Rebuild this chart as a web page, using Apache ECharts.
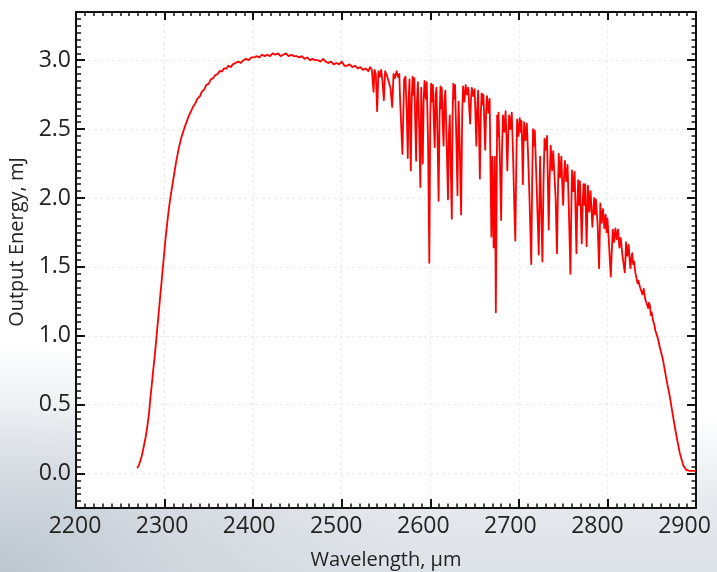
<!DOCTYPE html>
<html>
<head>
<meta charset="utf-8">
<script src="https://cdn.jsdelivr.net/npm/echarts@6/dist/echarts.min.js"></script>
<style>
  html, body { margin: 0; padding: 0; }
  body {
    width: 717px; height: 572px; overflow: hidden;
    background:
      radial-gradient(ellipse 420px 230px at 0% 100%, rgba(190,199,208,1) 0%, rgba(205,212,219,0.7) 45%, rgba(255,255,255,0) 100%),
      linear-gradient(180deg, #ffffff 0%, #ffffff 72%, #e6e9ed 88%, #dde2e7 100%);
  }
  #chart { width: 717px; height: 572px; }
</style>
</head>
<body>
<div id="chart"></div>
<script>
// ---- data ----
const xTickLabels = [2200, 2300, 2400, 2500, 2600, 2700, 2800, 2900];
const yTickLabels = [0.0, 0.5, 1.0, 1.5, 2.0, 2.5, 3.0];

// [wavelength (µm), output energy (mJ)]
const riseSegment = [
  [2269,0.04],[2271,0.06],[2274,0.12],[2276,0.18],[2278.5,0.26],[2280.5,0.34],[2282.5,0.44],
  [2284,0.55],[2285.5,0.64],[2287,0.74],[2289,0.86],[2291,1.0],[2293,1.14],[2295,1.28],
  [2297,1.42],[2299,1.56],[2301,1.7],[2303,1.82],[2305,1.93],[2307,2.02],[2309,2.1],
  [2311,2.18],[2313,2.26],[2316,2.36],[2319,2.44],[2323,2.52],[2327,2.59],[2332,2.66],
  [2335,2.69],[2337,2.72],[2340,2.74],[2342,2.77],[2345,2.79],[2347,2.82],[2350,2.83],
  [2352,2.86],[2355,2.87],[2357,2.89],[2360,2.90],[2362,2.92],[2365,2.92],[2367,2.94],
  [2370,2.94],[2372,2.96],[2375,2.95],[2377,2.97]
];

const plateauSegment = [
  [2380,2.98],[2383,2.99],[2386,2.98],[2389,3.00],[2392,3.01],[2395,3.0],[2398,3.02],
  [2401,3.02],[2404,3.03],[2407,3.02],[2410,3.04],[2413,3.03],[2416,3.04],[2419,3.03],
  [2422,3.05],[2425,3.04],[2428,3.05],[2431,3.03],[2434,3.04],[2437,3.05],[2440,3.03],
  [2443,3.04],[2446,3.03],[2449,3.03],[2452,3.02],[2455,3.03],[2458,3.01],[2461,3.02],
  [2464,3.0],[2467,3.01],[2470,3.0],[2473,3.0],[2476,2.99],[2479,3.01],[2482,2.99],
  [2485,2.98],[2488,2.99],[2491,2.97],[2494,2.98],[2497,2.97],[2500,2.99],[2503,2.96],
  [2506,2.96],[2509,2.97],[2512,2.95],[2515,2.96],[2518,2.94],[2521,2.95],[2524,2.93],
  [2527,2.94],[2530,2.92]
];

const absorptionSegment = [
  [2532,2.95],[2534,2.93],[2536,2.77],[2537,2.93],[2538.5,2.90],[2540,2.63],[2541.5,2.92],
  [2543,2.88],[2544.5,2.93],[2546,2.85],[2547.6,2.71],[2549,2.92],[2551,2.89],[2553,2.90],
  [2555,2.80],[2557,2.66],[2558.5,2.90],[2560,2.87],[2562,2.92],[2563.5,2.88],[2565,2.90],
  [2566,2.70],[2567,2.55],[2568.5,2.32],[2569.5,2.60],[2570.5,2.86],[2572,2.88],[2573.5,2.60],
  [2574.6,2.29],[2575.5,2.70],[2576.5,2.86],[2577.3,2.50],[2578,2.20],[2579,2.70],[2580,2.88],
  [2581,2.75],[2582,2.87],[2583,2.55],[2584,2.27],[2585,2.70],[2586,2.84],[2587.5,2.50],
  [2588.8,2.08],[2589.8,2.80],[2590.7,2.50],[2591.5,2.25],[2592.5,2.70],[2593.5,2.85],
  [2595,2.72],[2596,2.84],[2597.5,2.40],[2598.9,1.53],[2600,2.60],[2601,2.83],[2602,2.70],
  [2603,2.82],[2604,2.55],[2605,2.37],[2606,2.75],[2607,2.80],[2608.3,2.40],[2609.4,1.98],
  [2610.5,2.60],[2611.5,2.81],[2612.3,2.65],[2613,2.80],[2614,2.55],[2615,2.38],[2616,2.70],
  [2617,2.78],[2618.5,2.40],[2620,1.99],[2621,2.45],[2622,2.60],[2623.2,2.20],[2624.3,1.85],
  [2625.2,2.60],[2626,2.83],[2627,2.72],[2628,2.82],[2629.5,2.40],[2630.7,2.02],[2631.5,2.50],
  [2632,2.70],[2633.5,2.30],[2634.8,1.88],[2636,2.60],[2637,2.81],[2638.5,2.70],[2640,2.82],
  [2641.5,2.75],[2643,2.80],[2644,2.65],[2645,2.54],[2646,2.72],[2647,2.80],[2648.5,2.74],
  [2650,2.79],[2651,2.60],[2652,2.38],[2653,2.65],[2654,2.78],[2655,2.50],[2656,2.14],
  [2657,2.60],[2658,2.76],[2659,2.68],[2660,2.75],[2661,2.55],[2662,2.35],[2663,2.62],
  [2664,2.74],[2665.5,2.62],[2667,2.72],[2668,2.20],[2669,1.72],[2669.6,2.10],[2670,2.30],
  [2670.8,2.00],[2671.5,1.64],[2672.2,2.00],[2672.8,2.30],[2673.4,1.80],[2674,1.17],
  [2674.8,1.90],[2675.5,2.60],[2676.3,2.45],[2677,2.62],[2678.5,2.30],[2680,1.84],[2681,2.35],
  [2682,2.60],[2683.5,2.48],[2685,2.63],[2686,2.45],[2687,2.20],[2688,2.45],[2689,2.60],
  [2690.5,2.50],[2692,2.62],[2693.5,2.30],[2695,1.90],[2696,1.69],[2697,2.20],[2698,2.57],
  [2699.5,2.45],[2701,2.58],[2702,2.48],[2703,2.56],[2703.8,2.35],[2704.5,2.10],[2705.3,2.40],
  [2706,2.55],[2707.5,2.42],[2709,2.54],[2710.5,2.30],[2712,2.00],[2714,1.52],[2715,2.10],
  [2716,2.50],[2717,2.38],[2718,2.49],[2719.5,2.20],[2721,1.90],[2722.5,1.59],[2723.3,2.00],
  [2724,2.30],[2725.3,1.90],[2726.6,1.54],[2727.8,2.10],[2729,2.43],[2730.5,2.35],[2731.8,2.45],
  [2732.8,2.10],[2733.7,1.77],[2734.8,2.15],[2736,2.38],[2737.5,2.20],[2738.8,2.34],[2740,2.34],
  [2741.5,2.00],[2743,1.60],[2744,2.00],[2745,2.32],[2746.5,2.15],[2748,2.30],[2749,2.10],
  [2750,1.95],[2751,2.15],[2752,2.27],[2753.5,2.12],[2755,2.24],[2756.5,1.90],[2758.2,1.45],
  [2759.2,1.90],[2760,2.20],[2761.5,2.05],[2763,2.19],[2764,1.90],[2765,1.60],[2766,1.95],
  [2767,2.13],[2768,1.95],[2769,2.12],[2770,1.90],[2771,1.67],[2772,1.95],[2773,2.10],
  [2774,1.95],[2775,2.10],[2775.8,1.85],[2776.5,1.65],[2777.3,1.90],[2778,2.09],[2779.5,1.90],
  [2781,2.05],[2782,1.92],[2783,1.79],[2784,1.90],[2785,2.00],[2786,1.88],[2787,1.99],
  [2789,1.80],[2790.6,1.49],[2791.4,1.75],[2792,1.96],[2793.5,1.82],[2795,1.92],[2796.5,1.78],
  [2798,1.88],[2799,1.75],[2800,1.85],[2801.5,1.70],[2802.7,1.55],[2803.8,1.43],[2804.8,1.60],
  [2806,1.77],[2807.5,1.68],[2809,1.78],[2810.5,1.70],[2812,1.77],[2813.5,1.64],[2815,1.71],
  [2817,1.58],[2819.6,1.46],[2820.5,1.58],[2821,1.68],[2822.5,1.58],[2824,1.66],[2825,1.56],
  [2826,1.49],[2827,1.56],[2828,1.60],[2829,1.52],[2830,1.54],[2831.5,1.46],[2833,1.45],
  [2834,1.38],[2835,1.40],[2836.5,1.36],[2838,1.36],[2839.5,1.30],[2841,1.34],[2842.5,1.27],
  [2844,1.28],[2845,1.22],[2846,1.20],[2847,1.24],[2848,1.22],[2849,1.15],[2850,1.17],
  [2851.5,1.11],[2853,1.08],[2854,1.04],[2855.5,1.01],[2857,0.98]
];

const fallSegment = [
  [2859,0.92],[2862.9,0.82],[2866.7,0.68],[2870.4,0.56],[2874.2,0.41],[2878,0.27],
  [2881.7,0.15],[2885.5,0.06],[2889.3,0.025],[2893,0.02],[2896.8,0.02],[2900,0.02]
];

const spectrum = riseSegment.concat(plateauSegment, absorptionSegment, fallSegment);

// ---- chart ----
const FONT = '"Open Sans", "Noto Sans", sans-serif';
const TXT = '#222222';
const TICK_FS = 23;

const rich = {};
xTickLabels.forEach((v, k) => {
  rich['p' + k] = { fontSize: TICK_FS, fontFamily: FONT, color: TXT, padding: [0, 2 + k * 3, 0, 0] };
});

const tickStyle = { color: '#111', width: 2 };
const minorStyle = { color: '#111', width: 1.5 };
const gridLine = { show: true, lineStyle: { color: '#ebebeb', width: 1, type: [3, 3] } };

function yFmt(v) {
  const r = Math.round(v * 2) / 2;
  return Math.abs(v - r) < 1e-6 ? r.toFixed(1) : '';
}

const chart = echarts.init(document.getElementById('chart'), null, { renderer: 'canvas' });
chart.setOption({
  backgroundColor: 'transparent',
  animation: false,
  grid: { left: 76, right: 21, top: 12, bottom: 64, containLabel: false, outerBoundsMode: 'none',
          show: true, backgroundColor: '#ffffff', borderWidth: 0 },
  xAxis: [
    {
      type: 'value', min: 2200, max: 2900, interval: 100, position: 'bottom',
      name: 'Wavelength, µm', nameLocation: 'middle', nameGap: 42,
      nameTextStyle: { fontSize: 20, fontFamily: FONT, color: TXT },
      axisLine: { show: true, onZero: false, lineStyle: { color: '#111', width: 2 } },
      axisTick: { show: true, inside: true, length: 9, lineStyle: tickStyle },
      minorTick: { show: true, splitNumber: 10, length: 4.5, lineStyle: minorStyle },
      splitLine: gridLine,
      axisLabel: {
        margin: 7, fontSize: TICK_FS, fontFamily: FONT, color: TXT, hideOverlap: false,
        formatter: function (v) { const k = Math.round((v - 2200) / 100); return '{p' + k + '|' + v + '}'; },
        rich: rich
      }
    },
    {
      type: 'value', min: 2200, max: 2900, interval: 100, position: 'top',
      axisLine: { show: true, onZero: false, lineStyle: { color: '#111', width: 2 } },
      axisTick: { show: true, inside: true, length: 8, lineStyle: tickStyle },
      minorTick: { show: true, splitNumber: 10, length: 4, lineStyle: minorStyle },
      splitLine: { show: false }, axisLabel: { show: false }
    }
  ],
  yAxis: [
    {
      type: 'value', min: -0.25, max: 3.35, splitNumber: 7, position: 'left',
      name: 'Output Energy, mJ', nameLocation: 'middle', nameGap: 47, nameRotate: 90,
      nameTextStyle: { fontSize: 20, fontFamily: FONT, color: TXT, padding: [0, 0, 0, 36] },
      axisLine: { show: true, onZero: false, lineStyle: { color: '#111', width: 2 } },
      axisTick: { show: true, inside: true, length: 9, lineStyle: tickStyle },
      minorTick: { show: true, splitNumber: 10, length: 5, lineStyle: minorStyle },
      splitLine: gridLine,
      axisLabel: { margin: 5, fontSize: TICK_FS, fontFamily: FONT, color: TXT, formatter: yFmt,
                   showMinLabel: false, showMaxLabel: false }
    },
    {
      type: 'value', min: -0.25, max: 3.35, splitNumber: 7, position: 'right',
      axisLine: { show: true, onZero: false, lineStyle: { color: '#111', width: 2 } },
      axisTick: { show: true, inside: true, length: 9, lineStyle: tickStyle },
      minorTick: { show: true, splitNumber: 10, length: 4.5, lineStyle: minorStyle },
      splitLine: { show: false }, axisLabel: { show: false }
    }
  ],
  series: [
    {
      type: 'line', xAxisIndex: 0, yAxisIndex: 0, data: spectrum,
      showSymbol: false, symbol: 'none', smooth: false, clip: true,
      lineStyle: { color: '#ff0000', width: 1.8, join: 'round' }
    }
  ]
});
</script>
</body>
</html>
